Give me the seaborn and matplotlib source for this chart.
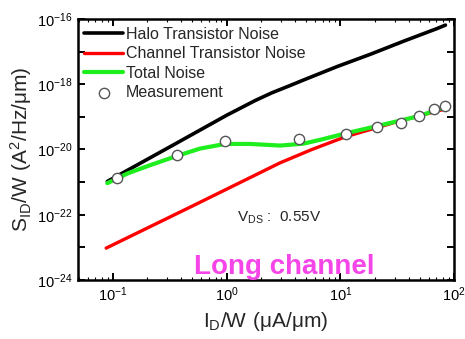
import matplotlib
matplotlib.use("Agg")
import matplotlib.pyplot as plt
import matplotlib.ticker as mticker
import numpy as np
import pandas as pd
import seaborn as sns

# Drain current density (uA/um) and normalised drain-current noise (A^2/Hz/um)
halo_x = [0.0891, 0.316, 1.0, 1.78, 2.51, 3.55, 4.75, 9.35, 18.4, 36.1, 71.1, 84.1]
halo_y = [1.05e-21, 1.20e-20, 1.12e-19, 3.16e-19, 5.5e-19, 8.9e-19, 1.35e-18, 3.47e-18,
          8.3e-18, 2.09e-17, 5.1e-17, 6.5e-17]

channel_x = [0.0871, 0.501, 2.95, 5.62, 11.07, 31.6, 81.3]
channel_y = [9.5e-24, 1.86e-22, 3.9e-21, 1.0e-20, 2.45e-20, 7.1e-20, 1.70e-19]

total_x = [0.0891, 0.135, 0.212, 0.363, 0.585, 0.97, 1.61, 2.96, 4.75, 7.08,
           11.07, 20.9, 49.0, 81.3]
total_y = [9.3e-22, 1.86e-21, 3.3e-21, 6.3e-21, 1.07e-20, 1.48e-20, 1.48e-20, 1.32e-20,
           1.51e-20, 2.09e-20, 3.1e-20, 5.2e-20, 1.05e-19, 1.95e-19]

meas_x = [0.108, 0.366, 0.97, 4.36, 11.2, 21.0, 34.3, 49.7, 66.4, 84.1]
meas_y = [1.32e-21, 6.8e-21, 1.82e-20, 2.04e-20, 2.95e-20, 4.8e-20, 6.3e-20, 1.05e-19, 1.70e-19, 2.14e-19]

sns.set_style("ticks")
plt.rcParams["font.family"] = ["Liberation Sans", "DejaVu Sans"]
plt.rcParams["mathtext.default"] = "regular"

fig = plt.figure(figsize=(4.65, 3.39), dpi=100)
ax = fig.add_axes([0.1677, 0.174, 0.8086, 0.770])

halo = pd.DataFrame({"x": halo_x, "y": halo_y})
chan = pd.DataFrame({"x": channel_x, "y": channel_y})
tot = pd.DataFrame({"x": total_x, "y": total_y})
meas = pd.DataFrame({"x": meas_x, "y": meas_y})

sns.lineplot(data=halo, x="x", y="y", ax=ax, color="black", lw=2.6,
             label="Halo Transistor Noise", sort=False)
sns.lineplot(data=chan, x="x", y="y", ax=ax, color="#FF0000", lw=2.4,
             label="Channel Transistor Noise", sort=False)
sns.lineplot(data=tot, x="x", y="y", ax=ax, color="#1EEE1E", lw=3.0,
             label="Total Noise", sort=False)
sns.scatterplot(data=meas, x="x", y="y", ax=ax, marker="o", s=55,
                facecolor="white", edgecolor="#555555", linewidth=1.0,
                label="Measurement", zorder=5)

ax.set_xscale("log")
ax.set_yscale("log")
ax.set_xlim(0.0492, 100)
ax.set_ylim(1e-24, 1e-16)

# axis ticks
ax.xaxis.set_major_locator(mticker.LogLocator(base=10, numticks=10))
ax.xaxis.set_minor_locator(mticker.LogLocator(base=10, subs=np.arange(2, 10), numticks=20))
ax.xaxis.set_minor_formatter(mticker.NullFormatter())
ax.xaxis.set_major_formatter(mticker.FuncFormatter(lambda v, p: r"$10^{%d}$" % round(np.log10(v))))
ax.yaxis.set_major_locator(mticker.FixedLocator([10.0 ** e for e in range(-24, -15)]))
ax.yaxis.set_minor_locator(mticker.NullLocator())


def ylab(v, p):
    e = int(round(np.log10(v)))
    return r"$10^{%d}$" % e if e % 2 == 0 else ""


ax.yaxis.set_major_formatter(mticker.FuncFormatter(ylab))
ax.tick_params(which="both", direction="in", top=True, right=True, colors="black",
               labelsize=10.5, width=1.4)
ax.tick_params(which="major", length=5, pad=4)
ax.tick_params(which="minor", length=2.5, width=0.8)
for s in ax.spines.values():
    s.set_linewidth(1.8)
    s.set_color("black")

ax.set_xlabel(r"$I_D/W\ (\mu A/\mu m)$", fontsize=15, labelpad=4)
ax.set_ylabel(r"$S_{ID}/W\ (A^2/Hz/\mu m)$", fontsize=15, labelpad=2)

ax.text(1.23, 10 ** -22.1, r"$V_{DS}$ :  0.55V", fontsize=11, va="center", ha="left")
ax.text(3.24, 10 ** -23.6, "Long channel", fontsize=20, fontweight="bold",
        color="#F545E8", va="center", ha="center")

ax.legend(loc="upper left", bbox_to_anchor=(0.0, 0.995), frameon=False, fontsize=11.5,
          handlelength=2.4, handletextpad=0.2, labelspacing=0.28, borderpad=0.3,
          borderaxespad=0.1)

fig.savefig("out.png", dpi=100)
